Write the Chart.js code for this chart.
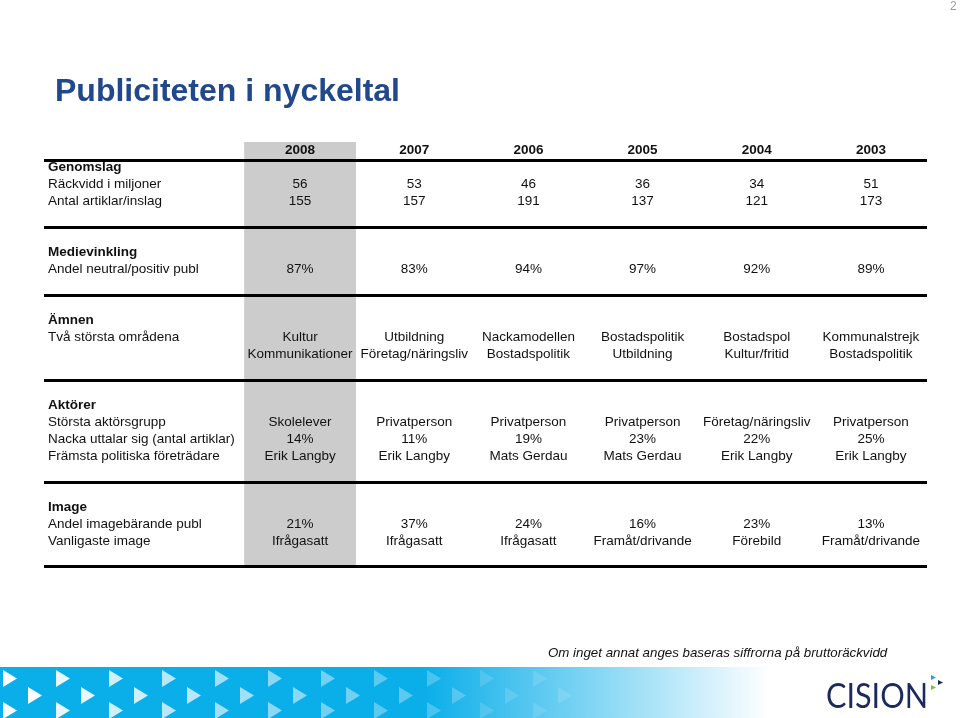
<!DOCTYPE html>
<html>
<head>
<meta charset="utf-8">
<script src="https://cdn.jsdelivr.net/npm/chart.js@4/dist/chart.umd.min.js"></script>
<style>
  html, body { margin: 0; padding: 0; background: #fff; }
  canvas { display: block; }
</style>
</head>
<body>
<canvas id="tabell" width="960" height="718"></canvas>
<script>
// Kolumner (år) och värden per rad
const years = ['2008', '2007', '2006', '2005', '2004', '2003'];
const rackvidd = [56, 53, 46, 36, 34, 51];
const antalArtiklar = [155, 157, 191, 137, 121, 173];
const andelPositiv = [87, 83, 94, 97, 92, 89];
const amnenForsta = ['Kultur', 'Utbildning', 'Nackamodellen', 'Bostadspolitik', 'Bostadspol', 'Kommunalstrejk'];
const amnenAndra = ['Kommunikationer', 'Företag/näringsliv', 'Bostadspolitik', 'Utbildning', 'Kultur/fritid', 'Bostadspolitik'];
const aktorsgrupp = ['Skolelever', 'Privatperson', 'Privatperson', 'Privatperson', 'Företag/näringsliv', 'Privatperson'];
const nackaUttalar = [14, 11, 19, 23, 22, 25];
const politiker = ['Erik Langby', 'Erik Langby', 'Mats Gerdau', 'Mats Gerdau', 'Erik Langby', 'Erik Langby'];
const andelImage = [21, 37, 24, 16, 23, 13];
const vanligImage = ['Ifrågasatt', 'Ifrågasatt', 'Ifrågasatt', 'Framåt/drivande', 'Förebild', 'Framåt/drivande'];

const pct = arr => arr.map(v => v + '%');

// Radnummer på y-skalan (0 = rubrikraden med årtal)
const rader = [
    { rad: 1, text: 'Genomslag', fet: true },
    { rad: 2, text: 'Räckvidd i miljoner', varden: rackvidd },
    { rad: 3, text: 'Antal artiklar/inslag', varden: antalArtiklar },
    { rad: 6, text: 'Medievinkling', fet: true },
    { rad: 7, text: 'Andel neutral/positiv publ', varden: pct(andelPositiv) },
    { rad: 10, text: 'Ämnen', fet: true },
    { rad: 11, text: 'Två största områdena', varden: amnenForsta },
    { rad: 12, text: '', varden: amnenAndra },
    { rad: 15, text: 'Aktörer', fet: true },
    { rad: 16, text: 'Största aktörsgrupp', varden: aktorsgrupp },
    { rad: 17, text: 'Nacka uttalar sig (antal artiklar)', varden: pct(nackaUttalar) },
    { rad: 18, text: 'Främsta politiska företrädare', varden: politiker },
    { rad: 21, text: 'Image', fet: true },
    { rad: 22, text: 'Andel imagebärande publ', varden: pct(andelImage) },
    { rad: 23, text: 'Vanligaste image', varden: vanligImage }
];
const avdelare = [0.6, 4.53, 8.55, 13.53, 19.53, 24.47];
const markeradKolumn = years.map((y, i) => i === 0 ? [-0.47, 24.47] : null);

const FONT = "'Liberation Sans', Arial, sans-serif";

// Bakgrund: titel, sidnummer, fotnot, banderoll och logga
const sidaPlugin = {
    id: 'sida',
    beforeDraw(chart) {
        const ctx = chart.ctx;
        ctx.save();
        // sidnummer
        ctx.fillStyle = '#9a9a9a';
        ctx.font = '12px ' + FONT;
        ctx.textBaseline = 'top';
        ctx.fillText('2', 950, 1);
        // titel
        ctx.fillStyle = '#20488a';
        ctx.font = 'bold 32px ' + FONT;
        ctx.textBaseline = 'alphabetic';
        ctx.fillText('Publiciteten i nyckeltal', 55, 101);
        // fotnot
        ctx.fillStyle = '#111';
        ctx.font = 'italic 13.3px ' + FONT;
        ctx.textBaseline = 'middle';
        ctx.fillText('Om inget annat anges baseras siffrorna på bruttoräckvidd', 548, 653);

        // banderoll
        const g = ctx.createLinearGradient(0, 0, 770, 0);
        g.addColorStop(0, '#0aaee9');
        g.addColorStop(0.55, '#0aaee9');
        g.addColorStop(1, 'rgba(255,255,255,1)');
        ctx.fillStyle = g;
        ctx.fillRect(0, 667, 770, 51);
        for (let x0 = 3; x0 < 540; x0 += 53) {
            const a = Math.max(0.12, 1 - x0 / 560);
            ctx.fillStyle = 'rgba(255,255,255,' + a + ')';
            [[x0, 670], [x0 + 25, 687], [x0, 702]].forEach(([tx, ty]) => {
                ctx.beginPath();
                ctx.moveTo(tx, ty);
                ctx.lineTo(tx + 14, ty + 8.5);
                ctx.lineTo(tx, ty + 17);
                ctx.closePath();
                ctx.fill();
            });
        }

        // logga
        ctx.fillStyle = '#1b2a5c';
        ctx.font = '35px Lato, ' + FONT;
        ctx.textBaseline = 'alphabetic';
        const w = ctx.measureText('CISION').width;
        ctx.save();
        ctx.translate(826, 708);
        ctx.scale(102 / w, 1);
        ctx.fillText('CISION', 0, 0);
        ctx.restore();
        const tri = (x, y, c) => {
            ctx.fillStyle = c;
            ctx.beginPath();
            ctx.moveTo(x, y);
            ctx.lineTo(x + 5, y + 2.5);
            ctx.lineTo(x, y + 5);
            ctx.closePath();
            ctx.fill();
        };
        tri(931, 675, '#2b9fd8');
        tri(938, 680, '#1b2a5c');
        tri(931, 685, '#7cbf3c');
        ctx.restore();
    }
};

// Tabellens text och linjer placeras via skalorna
const tabellPlugin = {
    id: 'tabell',
    afterDatasetsDraw(chart) {
        const ctx = chart.ctx;
        const xs = chart.scales.x;
        const ys = chart.scales.y;
        const left = 48;
        const right = 927;
        ctx.save();

        ctx.strokeStyle = '#000';
        ctx.lineWidth = 3;
        avdelare.forEach(r => {
            const y = Math.round(ys.getPixelForValue(r)) + 0.5;
            ctx.beginPath();
            ctx.moveTo(left - 4, y);
            ctx.lineTo(right, y);
            ctx.stroke();
        });

        ctx.fillStyle = '#111';
        ctx.textBaseline = 'middle';
        ctx.textAlign = 'center';
        ctx.font = 'bold 13.5px ' + FONT;
        years.forEach((yr, i) => ctx.fillText(yr, xs.getPixelForValue(i), ys.getPixelForValue(0)));

        rader.forEach(rad => {
            const y = ys.getPixelForValue(rad.rad);
            ctx.textAlign = 'left';
            ctx.font = (rad.fet ? 'bold ' : '') + '13.5px ' + FONT;
            if (rad.text) ctx.fillText(rad.text, left, y);
            if (rad.varden) {
                ctx.textAlign = 'center';
                ctx.font = '13.5px ' + FONT;
                rad.varden.forEach((v, i) => ctx.fillText(String(v), xs.getPixelForValue(i), y));
            }
        });
        ctx.restore();
    }
};

const ctx = document.getElementById('tabell').getContext('2d');
new Chart(ctx, {
    type: 'bar',
    data: {
        labels: years,
        datasets: [{
            data: markeradKolumn,
            backgroundColor: '#cccccc',
            borderWidth: 0,
            categoryPercentage: 1,
            barPercentage: 0.98
        }]
    },
    options: {
        responsive: false,
        animation: false,
        layout: { padding: { left: 243, right: 32, top: 141.5, bottom: 151.5 } },
        plugins: { legend: { display: false }, tooltip: { enabled: false } },
        scales: {
            x: { type: 'category', display: false, offset: true },
            y: { type: 'linear', display: false, min: -0.5, max: 24.5, reverse: true }
        }
    },
    plugins: [sidaPlugin, tabellPlugin]
});
</script>
</body>
</html>
